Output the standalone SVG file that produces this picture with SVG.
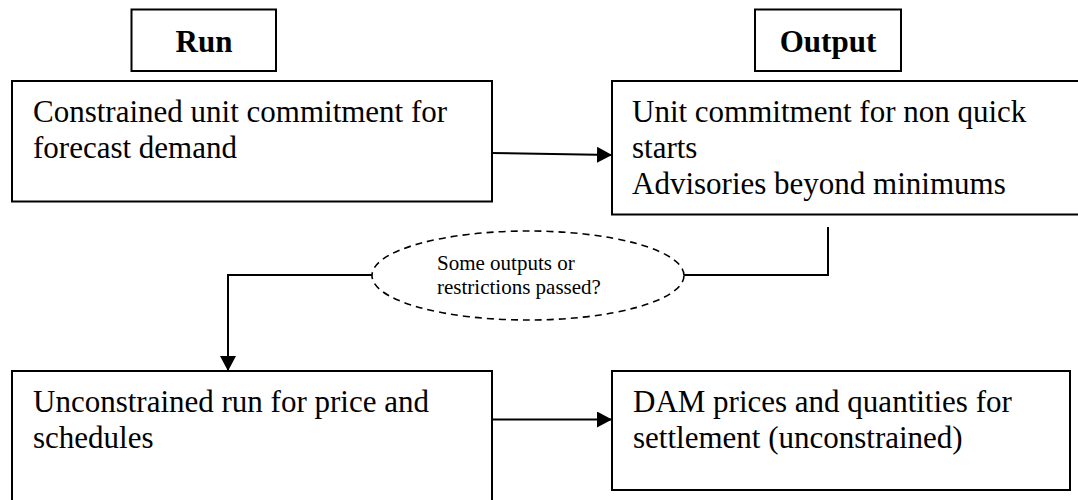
<svg xmlns="http://www.w3.org/2000/svg" width="1078" height="500" viewBox="0 0 1078 500">
  <style>
    .box { fill: #ffffff; stroke: #000000; stroke-width: 2; }
    .t { font-family: "Liberation Serif", "Times New Roman", serif; font-size: 31px; fill: #000000; }
    .h { font-family: "Liberation Serif", "Times New Roman", serif; font-size: 31px; font-weight: bold; fill: #000000; text-anchor: middle; }
    .s { font-family: "Liberation Serif", "Times New Roman", serif; font-size: 21px; fill: #000000; }
    .conn { fill: none; stroke: #000000; stroke-width: 2; }
    .dash { fill: #ffffff; stroke: #000000; stroke-width: 1.6; stroke-dasharray: 7 5; }
  </style>
  <defs>
    <marker id="arr" viewBox="0 0 15 16" refX="15" refY="8" markerWidth="15" markerHeight="16" markerUnits="userSpaceOnUse" orient="auto">
      <path d="M0,0 L15,8 L0,16 z" fill="#000000"/>
    </marker>
  </defs>
  <rect width="1078" height="500" fill="#ffffff"/>

  <g id="connectors">
    <path class="conn" d="M492,153 L612,155" marker-end="url(#arr)"/>
    <path class="conn" d="M828,227 L828,275 L684,275"/>
    <path class="conn" d="M372,275 L228,275 L228,371" marker-end="url(#arr)"/>
    <path class="conn" d="M492,419.5 L612,419.5" marker-end="url(#arr)"/>
  </g>

  <g id="header-run">
    <rect class="box" x="131.5" y="9.5" width="144.5" height="61.5"/>
    <text class="h" x="204" y="51.5">Run</text>
  </g>
  <g id="header-output">
    <rect class="box" x="755" y="9.5" width="146" height="61.5"/>
    <text class="h" x="828" y="51.5">Output</text>
  </g>

  <g id="constrained-run">
    <rect class="box" x="12" y="81" width="480" height="120.5"/>
    <text class="t" x="33" y="121.5">Constrained unit commitment for</text>
    <text class="t" x="33" y="157.5">forecast demand</text>
  </g>

  <g id="commitment-output">
    <rect class="box" x="612" y="81" width="472" height="133.5"/>
    <text class="t" x="632" y="121.5">Unit commitment for non quick</text>
    <text class="t" x="632" y="157.5">starts</text>
    <text class="t" x="632" y="193.5">Advisories beyond minimums</text>
  </g>

  <g id="decision">
    <ellipse class="dash" cx="528" cy="275.5" rx="156" ry="44.5"/>
    <text class="s" x="437" y="270">Some outputs or</text>
    <text class="s" x="437" y="294">restrictions passed?</text>
  </g>

  <g id="unconstrained-run">
    <rect class="box" x="12" y="371" width="480" height="140"/>
    <text class="t" x="33" y="411.5">Unconstrained run for price and</text>
    <text class="t" x="33" y="447.5">schedules</text>
  </g>

  <g id="dam-output">
    <rect class="box" x="612" y="371" width="458" height="119"/>
    <text class="t" x="633" y="411.5">DAM prices and quantities for</text>
    <text class="t" x="633" y="447.5">settlement (unconstrained)</text>
  </g>
</svg>
